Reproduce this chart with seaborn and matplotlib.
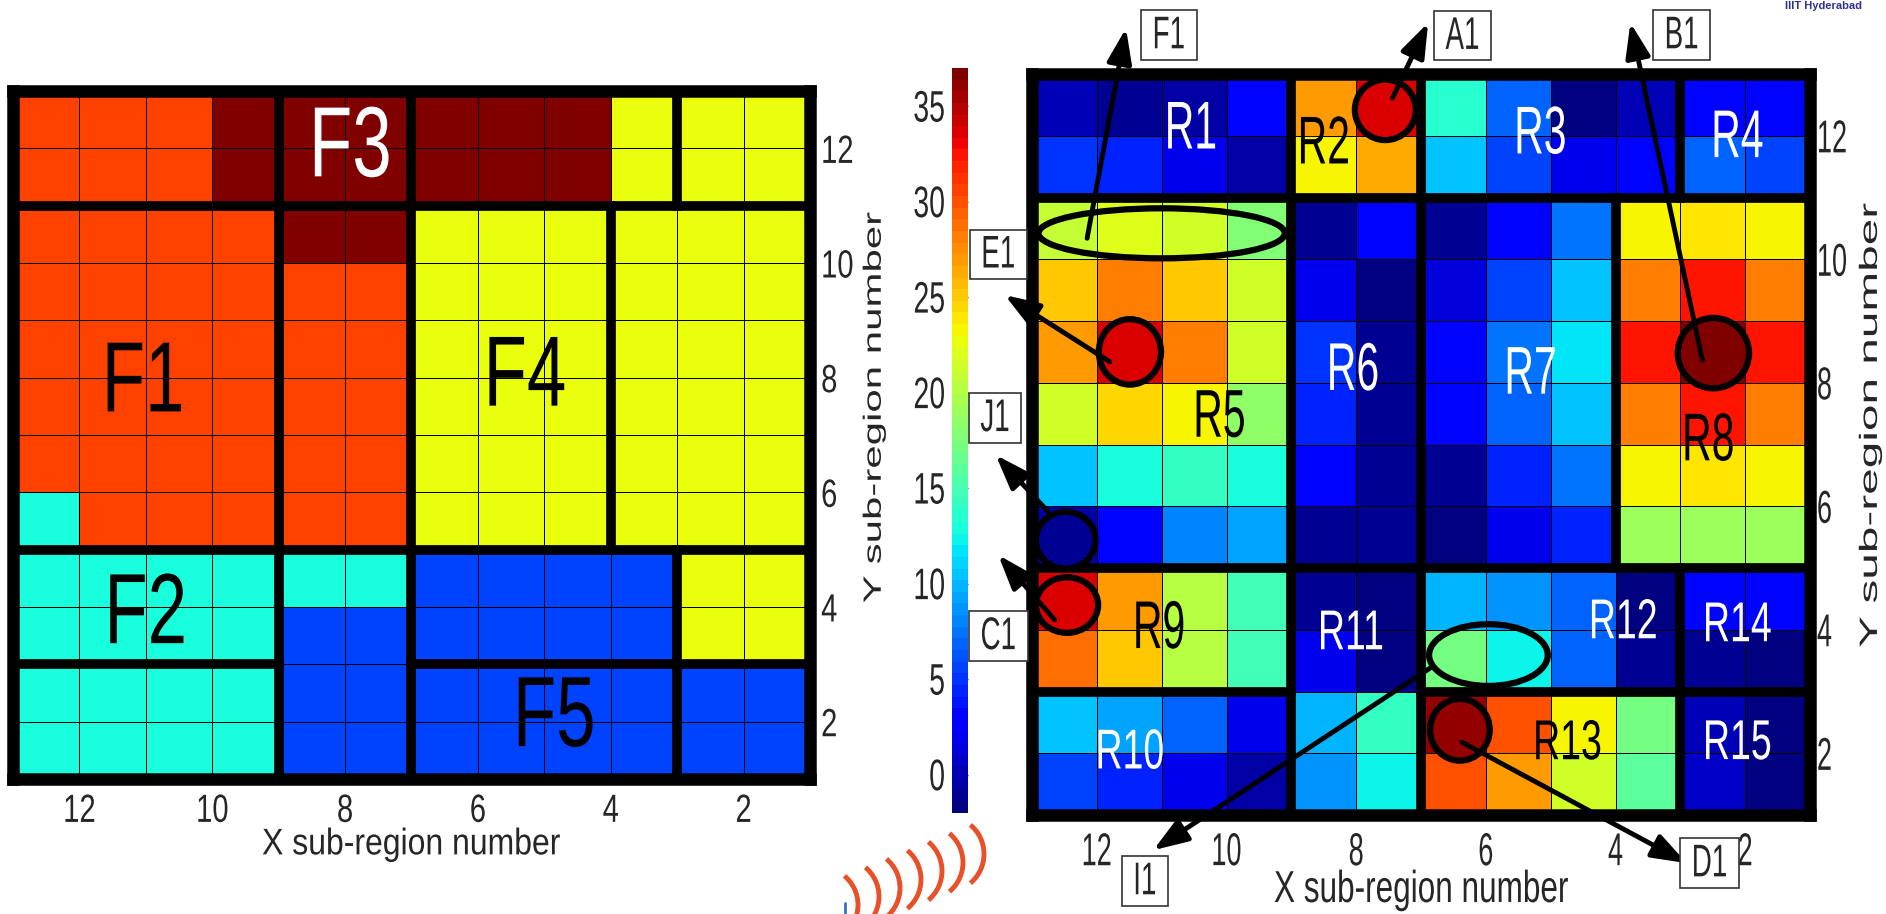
# Librerías

import numpy as np
import matplotlib
matplotlib.use('Agg')
import matplotlib.pyplot as plt
import seaborn as sns
from matplotlib.patches import Ellipse, Arc
from matplotlib.patheffects import AbstractPathEffect
from matplotlib.transforms import Affine2D

# Datos

x_ticks = [12, 10, 8, 6, 4, 2]
y_ticks = [12, 10, 8, 6, 4, 2]
cbar_ticks = [0, 5, 10, 15, 20, 25, 30, 35]
vmin, vmax = -2, 37

# Panel izquierdo: grupos de fallo (filas de y=13 a y=1, columnas de x=13 a x=1)
O, D, Y, C, B = 30.6, 37.0, 22.9, 13.2, 5.8
fault_map = [
    [O, O, O, D, D, D, D, D, D, Y, Y, Y],
    [O, O, O, D, D, D, D, D, D, Y, Y, Y],
    [O, O, O, O, D, D, Y, Y, Y, Y, Y, Y],
    [O, O, O, O, O, O, Y, Y, Y, Y, Y, Y],
    [O, O, O, O, O, O, Y, Y, Y, Y, Y, Y],
    [O, O, O, O, O, O, Y, Y, Y, Y, Y, Y],
    [O, O, O, O, O, O, Y, Y, Y, Y, Y, Y],
    [C, O, O, O, O, O, Y, Y, Y, Y, Y, Y],
    [C, C, C, C, C, C, B, B, B, B, Y, Y],
    [C, C, C, C, B, B, B, B, B, B, Y, Y],
    [C, C, C, C, B, B, B, B, B, B, B, B],
    [C, C, C, C, B, B, B, B, B, B, B, B],
]

# Panel derecho: valores medidos por sub-región
sub_region = [
    [0.0, -0.9, -0.6, 3.2, 26.7, 33.5, 13.4, 6.6, -1.6, 0.0, 3.0, 3.3],
    [5.3, 4.6, 2.0, -0.4, 23.5, 26.4, 10.3, 5.8, 1.9, 2.9, 6.6, 5.8],
    [21.0, 22.2, 21.2, 17.7, -0.9, 2.9, -0.9, 2.9, 7.2, 23.5, 24.2, 23.5],
    [25.3, 28.2, 25.4, 21.2, 1.9, -1.4, 1.5, 5.8, 10.3, 28.2, 32.2, 28.2],
    [26.7, 33.5, 28.0, 21.5, 5.3, -1.1, 2.9, 7.2, 11.5, 32.2, 37.0, 32.2],
    [21.2, 24.3, 23.0, 18.5, 4.6, -0.9, 2.9, 6.6, 10.3, 28.2, 32.2, 28.2],
    [10.5, 13.2, 14.0, 13.2, 2.9, -0.9, -0.9, 4.1, 7.2, 23.5, 24.2, 23.5],
    [-0.4, 2.9, 7.75, 9.0, -0.9, -0.9, -1.4, 1.9, 4.1, 19.3, 19.3, 19.3],
    [33.5, 26.7, 20.0, 14.8, -0.9, -1.4, 9.6, 8.4, 6.6, -1.4, 2.9, 3.1],
    [28.8, 25.3, 20.0, 14.8, 1.9, -1.4, 17.0, 12.4, 6.6, -0.9, -0.9, -1.4],
    [10.5, 9.0, 6.6, 1.9, 9.6, 14.0, 35.8, 30.2, 23.0, 17.0, 0.4, -1.4],
    [5.8, 4.6, 1.9, -0.4, 8.4, 12.4, 30.2, 26.7, 21.5, 16.2, 0.7, -2.0],
]

# Bordes de regiones (x0, x1, y0, y1) en números de sub-región
region_edges = [
    (9, 9, 1, 13), (7, 7, 1, 13), (3, 3, 11, 13), (4, 4, 5, 11), (3, 3, 1, 5),
    (13, 1, 11, 11), (13, 1, 5, 5), (13, 9, 3, 3), (7, 1, 3, 3),
]

# Etiquetas (texto, x, y, color) en coordenadas del heatmap
f_labels = [('F1', 1.96, 5.1, 'black'), ('F2', 2.0, 9.14, 'black'), ('F3', 5.08, 1.0, 'white'),
            ('F4', 7.71, 5.0, 'black'), ('F5', 8.15, 10.94, 'black')]
r_labels = [('R1', 2.45, 0.88, 'white'), ('R2', 4.5, 1.12, 'black'), ('R3', 7.84, 0.96, 'white'),
            ('R4', 10.88, 1.02, 'white'), ('R5', 2.89, 5.55, 'black'), ('R6', 4.95, 4.79, 'white'),
            ('R7', 7.69, 4.85, 'white'), ('R8', 10.43, 5.93, 'black'), ('R9', 1.96, 8.97, 'black'),
            ('R10', 1.51, 10.98, 'white'), ('R11', 4.92, 9.05, 'white'), ('R12', 9.12, 8.87, 'white'),
            ('R13', 8.26, 10.83, 'black'), ('R14', 10.88, 8.92, 'white'), ('R15', 10.88, 10.83, 'white')]

# Marcadores: (centro x, centro y, ancho, alto, valor de relleno o None)
markers = [
    (2.0, 2.58, 3.8, 0.81, None),
    (5.45, 0.58, 0.94, 0.98, 33.5),
    (10.51, 4.52, 1.1, 1.14, 37.0),
    (1.51, 4.5, 0.96, 1.06, 33.5),
    (0.52, 7.55, 0.92, 0.92, -0.9),
    (0.54, 8.6, 0.96, 0.9, 33.5),
    (7.04, 9.41, 1.83, 1.0, None),
    (6.6, 10.62, 0.92, 1.0, 35.8),
]

# Flechas: (texto, caja, cola, punta)
callouts = [
    ('F1', (2.11, -0.63), (0.85, 2.66), (1.45, -0.74)),
    ('A1', (6.64, -0.62), (5.56, 0.39), (6.11, -0.83)),
    ('B1', (10.02, -0.63), (10.34, 4.63), (9.23, -0.83)),
    ('E1', (-0.52, 2.92), (1.2, 4.66), (-0.42, 3.58)),
    ('J1', (-0.57, 5.57), (0.25, 7.09), (-0.56, 6.17)),
    ('C1', (-0.52, 9.1), (0.35, 8.84), (-0.52, 7.79)),
    ('I1', (1.74, 13.07), (6.17, 9.6), (1.87, 12.57)),
    ('D1', (10.45, 12.78), (6.63, 10.82), (10.1, 12.78)),
]

# Estilo

sns.set_style('white')
plt.rcParams['font.family'] = ['Liberation Sans', 'DejaVu Sans']

jet = plt.get_cmap('jet', 64)
norm = plt.Normalize(vmin, vmax)


# El original es una figura estirada en vertical: los textos salen altos y estrechos
class Stretch(AbstractPathEffect):
    def __init__(self, sy):
        super().__init__()
        self.sy = sy

    def draw_path(self, renderer, gc, tpath, affine, rgbFace=None):
        bb = tpath.get_extents(affine)
        cx, cy = bb.x0 + bb.width / 2, bb.y0 + bb.height / 2
        aff = affine + Affine2D().translate(-cx, -cy).scale(1, self.sy).translate(cx, cy)
        renderer.draw_path(gc, tpath, aff, rgbFace)


def draw_regions(ax):
    '''Dibuja los bordes gruesos de las regiones y el marco.'''
    for x0, x1, y0, y1 in region_edges:
        ax.plot([13 - x0, 13 - x1], [13 - y0, 13 - y1], color='black', lw=7,
                solid_capstyle='projecting', zorder=2)
    for sp in ax.spines.values():
        sp.set_visible(True)
        sp.set_linewidth(9)
        sp.set_color('black')


def setup_axis(ax, tick_size, tick_sy, xpad, ypad, xlab_size, xlab_sy, xlab_y,
               ylab_size, ylab_sy, ylab_xy):
    '''Ticks a la derecha y abajo, como en el original.'''
    ax.set_xticks([13 - v for v in x_ticks])
    ax.set_xticklabels(x_ticks, rotation=0)
    ax.set_yticks([13 - v for v in y_ticks])
    ax.set_yticklabels(y_ticks, rotation=0)
    ax.yaxis.tick_right()
    ax.yaxis.set_label_position('right')
    ax.tick_params(axis='both', length=0, labelsize=tick_size)
    ax.tick_params(axis='x', pad=xpad)
    ax.tick_params(axis='y', pad=ypad)
    for t in ax.get_xticklabels() + ax.get_yticklabels():
        t.set_path_effects([Stretch(tick_sy)])
    ax.set_xlabel('X sub-region number', fontsize=xlab_size)
    ax.set_ylabel('Y sub-region number', fontsize=ylab_size, rotation=90)
    ax.xaxis.set_label_coords(0.5, xlab_y)
    ax.xaxis.label.set_va('center')
    ax.xaxis.label.set_path_effects([Stretch(xlab_sy)])
    ax.yaxis.set_label_coords(*ylab_xy)
    ax.yaxis.label.set_va('center')
    ax.yaxis.label.set_ha('center')
    ax.yaxis.label.set_path_effects([Stretch(ylab_sy)])


fig = plt.figure(figsize=(18.86, 9.14), dpi=100)

# Panel izquierdo
ax1 = fig.add_axes([13 / 1886, 1 - 779 / 914, 797 / 1886, 688 / 914])
sns.heatmap(np.array(fault_map), ax=ax1, cmap=jet, vmin=vmin, vmax=vmax, cbar=False,
            linewidths=0.7, linecolor='black', xticklabels=False, yticklabels=False)
draw_regions(ax1)
setup_axis(ax1, 21, 1.35, 12.5, 8, 23, 1.16, -0.096, 18, 1.68, (1.080, 0.54))
for txt, x, y, col in f_labels:
    ax1.text(x, y, txt, fontsize=51, color=col, ha='center', va='center', zorder=4,
             path_effects=[Stretch(1.41)])

# Panel derecho con barra de color a la izquierda
ax2 = fig.add_axes([1032 / 1886, 1 - 815 / 914, 778 / 1886, 741 / 914])
cax = fig.add_axes([952 / 1886, 1 - 813 / 914, 16 / 1886, 745 / 914])
sns.heatmap(np.array(sub_region), ax=ax2, cmap=jet, vmin=vmin, vmax=vmax, cbar_ax=cax,
            cbar_kws={'ticks': cbar_ticks}, linewidths=0.7, linecolor='black',
            xticklabels=False, yticklabels=False)
draw_regions(ax2)
setup_axis(ax2, 19.5, 1.7, 17, 5, 22.7, 1.42, -0.102, 18, 1.91, (1.077, 0.526))
cax.yaxis.set_ticks_position('both')
cax.tick_params(direction='in', length=5, width=1, labelsize=20.5, labelleft=True,
                labelright=False, pad=5)
for t in cax.get_yticklabels():
    t.set_path_effects([Stretch(1.55)])

for txt, x, y, col in r_labels:
    size, sy = (29.5, 1.65) if len(txt) == 2 else (27, 1.5)
    ax2.text(x, y, txt, fontsize=size, color=col, ha='center', va='center', zorder=4,
             path_effects=[Stretch(sy)])

for cx, cy, w, h, val in markers:
    fc = 'none' if val is None else jet(norm(val))
    ax2.add_patch(Ellipse((cx, cy), w, h, facecolor=fc, edgecolor='black', lw=4.5,
                          zorder=5, clip_on=False))

for txt, box, tail, head in callouts:
    ax2.annotate('', xy=head, xytext=tail, annotation_clip=False, zorder=6,
                 arrowprops=dict(arrowstyle='-|>,head_length=0.7,head_width=0.25',
                                 mutation_scale=30, lw=3.5, color='black',
                                 shrinkA=0, shrinkB=0))
    ax2.text(box[0], box[1], txt, fontsize=20, ha='center', va='center', clip_on=False,
             zorder=7, path_effects=[Stretch(1.65)],
             bbox=dict(boxstyle='square,pad=0.42', fc='white', ec='#333333', lw=1.2))

# Restos de la diapositiva (logo y cabecera)
over = fig.add_axes([0, 0, 1, 1])
over.set_xlim(0, 1886)
over.set_ylim(914, 0)
over.axis('off')
for k in range(7):
    mx, my = 858 + 21 * k, 905 - 8.5 * k
    over.add_patch(Arc((mx - 38, my), 76, 76, theta1=-50, theta2=50, color='#E8502A', lw=3.5))
over.plot([845, 845], [903, 914], color='#3A6FC4', lw=2)
over.text(1862, 1, 'IIIT Hyderabad', ha='right', va='top', color='#2E3192',
          fontsize=8, fontweight='bold')

fig.savefig('out.png', dpi=100)
